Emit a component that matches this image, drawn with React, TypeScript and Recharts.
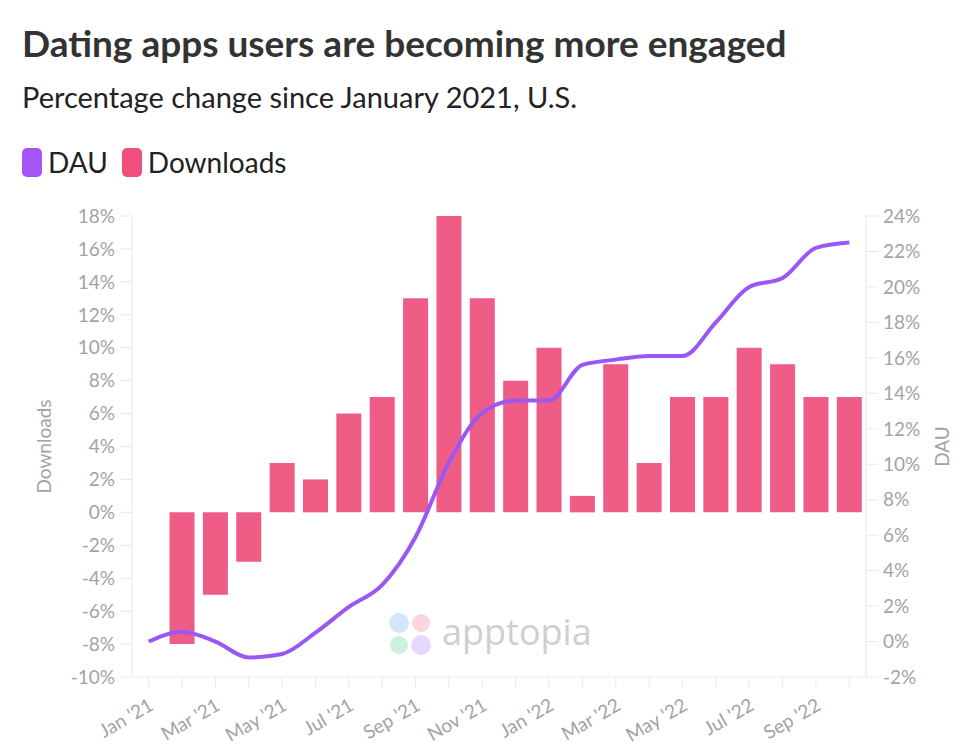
import { Bar, ComposedChart, Line, XAxis, YAxis } from 'recharts';

const months = [
  "Jan '21", "Feb '21", "Mar '21", "Apr '21", "May '21", "Jun '21", "Jul '21", "Aug '21",
  "Sep '21", "Oct '21", "Nov '21", "Dec '21", "Jan '22", "Feb '22", "Mar '22", "Apr '22",
  "May '22", "Jun '22", "Jul '22", "Aug '22", "Sep '22", "Oct '22",
];
const downloads = [0, -8, -5, -3, 3, 2, 6, 7, 13, 18, 13, 8, 10, 1, 9, 3, 7, 7, 10, 9, 7, 7];
const dau = [0, 0.55, 0, -0.9, -0.7, 0.5, 1.95, 3.2, 5.9, 10.1, 12.9, 13.6, 13.6, 15.6, 15.9, 16.1, 16.1, 18.0, 20.0, 20.5, 22.2, 22.5];
const downloadTicks = [-10, -8, -6, -4, -2, 0, 2, 4, 6, 8, 10, 12, 14, 16, 18];
const dauTicks = [-2, 0, 2, 4, 6, 8, 10, 12, 14, 16, 18, 20, 22, 24];

const PURPLE = '#9b57f4';
const PINK = '#ef5c86';
const GRAY = '#a3a3a3';
const AXIS = '#e8e8e8';
const FONT = 'Lato, "Noto Sans", sans-serif';

const data = months.map((m, i) => ({ month: m, downloads: downloads[i], dau: dau[i] }));

function MonthTick({ x, y, payload, index }: any) {
  if (index % 2 !== 0) return null;
  return (
    <text
      x={x + 6}
      y={y + 20}
      textAnchor="end"
      fill={GRAY}
      fontSize={19}
      fontFamily={FONT}
      transform={`rotate(-30, ${x + 6}, ${y + 20})`}
    >
      {payload.value}
    </text>
  );
}

export default function App() {
  return (
    <div style={{ position: 'absolute', left: 0, top: 0, width: 980, height: 748, background: '#fff', fontFamily: FONT }}>
      <div style={{ position: 'absolute', left: 22, top: 20, fontSize: 37, fontWeight: 700, color: '#333', whiteSpace: 'nowrap' }}>
        Dating apps users are becoming more engaged
      </div>
      <div style={{ position: 'absolute', left: 22, top: 79, fontSize: 29, color: '#222', whiteSpace: 'nowrap' }}>
        Percentage change since January 2021, U.S.
      </div>
      <div style={{ position: 'absolute', left: 22, top: 145, display: 'flex', alignItems: 'center', fontSize: 28, color: '#222' }}>
        <span style={{ width: 20, height: 29, borderRadius: 5, background: '#a555f7', display: 'inline-block', marginRight: 6 }} />
        <span style={{ marginRight: 14 }}>DAU</span>
        <span style={{ width: 20, height: 29, borderRadius: 5, background: '#ef4f7d', display: 'inline-block', marginRight: 6 }} />
        <span>Downloads</span>
      </div>

      <div style={{ position: 'absolute', left: 388, top: 612, display: 'flex', alignItems: 'center' }}>
        <svg width={46} height={44} viewBox="0 0 46 44">
          <circle cx={11} cy={11} r={10} fill="#d4e6fb" />
          <circle cx={33} cy={11} r={9} fill="#fbd6df" />
          <circle cx={11} cy={33} r={9} fill="#cdf1de" />
          <circle cx={33} cy={33} r={10} fill="#e6d8fb" />
        </svg>
        <span style={{ fontSize: 36, color: '#cfcfcf', marginLeft: 8, marginTop: -6, fontFamily: '"Open Sans", Lato, sans-serif' }}>apptopia</span>
      </div>

      <ComposedChart
        width={980}
        height={748}
        data={data}
        margin={{ top: 216, right: 0, bottom: 11, left: 0 }}
        barCategoryGap="12.5%"
        style={{ position: 'absolute', left: 0, top: 0 }}
      >
        <XAxis
          dataKey="month"
          interval={0}
          tick={<MonthTick />}
          tickSize={10}
          height={60}
          axisLine={{ stroke: AXIS }}
          tickLine={{ stroke: AXIS }}
        />
        <YAxis
          yAxisId="left"
          width={132}
          domain={[-10, 18]}
          ticks={downloadTicks}
          tickFormatter={(v) => `${v}%`}
          tick={{ fill: GRAY, fontSize: 19, fontFamily: FONT }}
          tickSize={12}
          tickMargin={5}
          axisLine={{ stroke: AXIS }}
          tickLine={{ stroke: AXIS }}
          label={{ value: 'Downloads', angle: -90, position: 'insideLeft', offset: 44, fill: GRAY, fontSize: 19, fontFamily: FONT, style: { textAnchor: 'middle' } }}
        />
        <YAxis
          yAxisId="right"
          orientation="right"
          width={114}
          domain={[-2, 24]}
          ticks={dauTicks}
          tickFormatter={(v) => `${v}%`}
          tick={{ fill: GRAY, fontSize: 19, fontFamily: FONT }}
          tickSize={12}
          tickMargin={5}
          axisLine={{ stroke: AXIS }}
          tickLine={{ stroke: AXIS }}
          label={{ value: 'DAU', angle: -90, position: 'insideRight', offset: 38, fill: GRAY, fontSize: 19, fontFamily: FONT, style: { textAnchor: 'middle' } }}
        />
        <Bar yAxisId="left" dataKey="downloads" fill={PINK} isAnimationActive={false} />
        <Line
          yAxisId="right"
          type="monotone"
          dataKey="dau"
          stroke={PURPLE}
          strokeWidth={4}
          dot={false}
          isAnimationActive={false}
        />
      </ComposedChart>
    </div>
  );
}
